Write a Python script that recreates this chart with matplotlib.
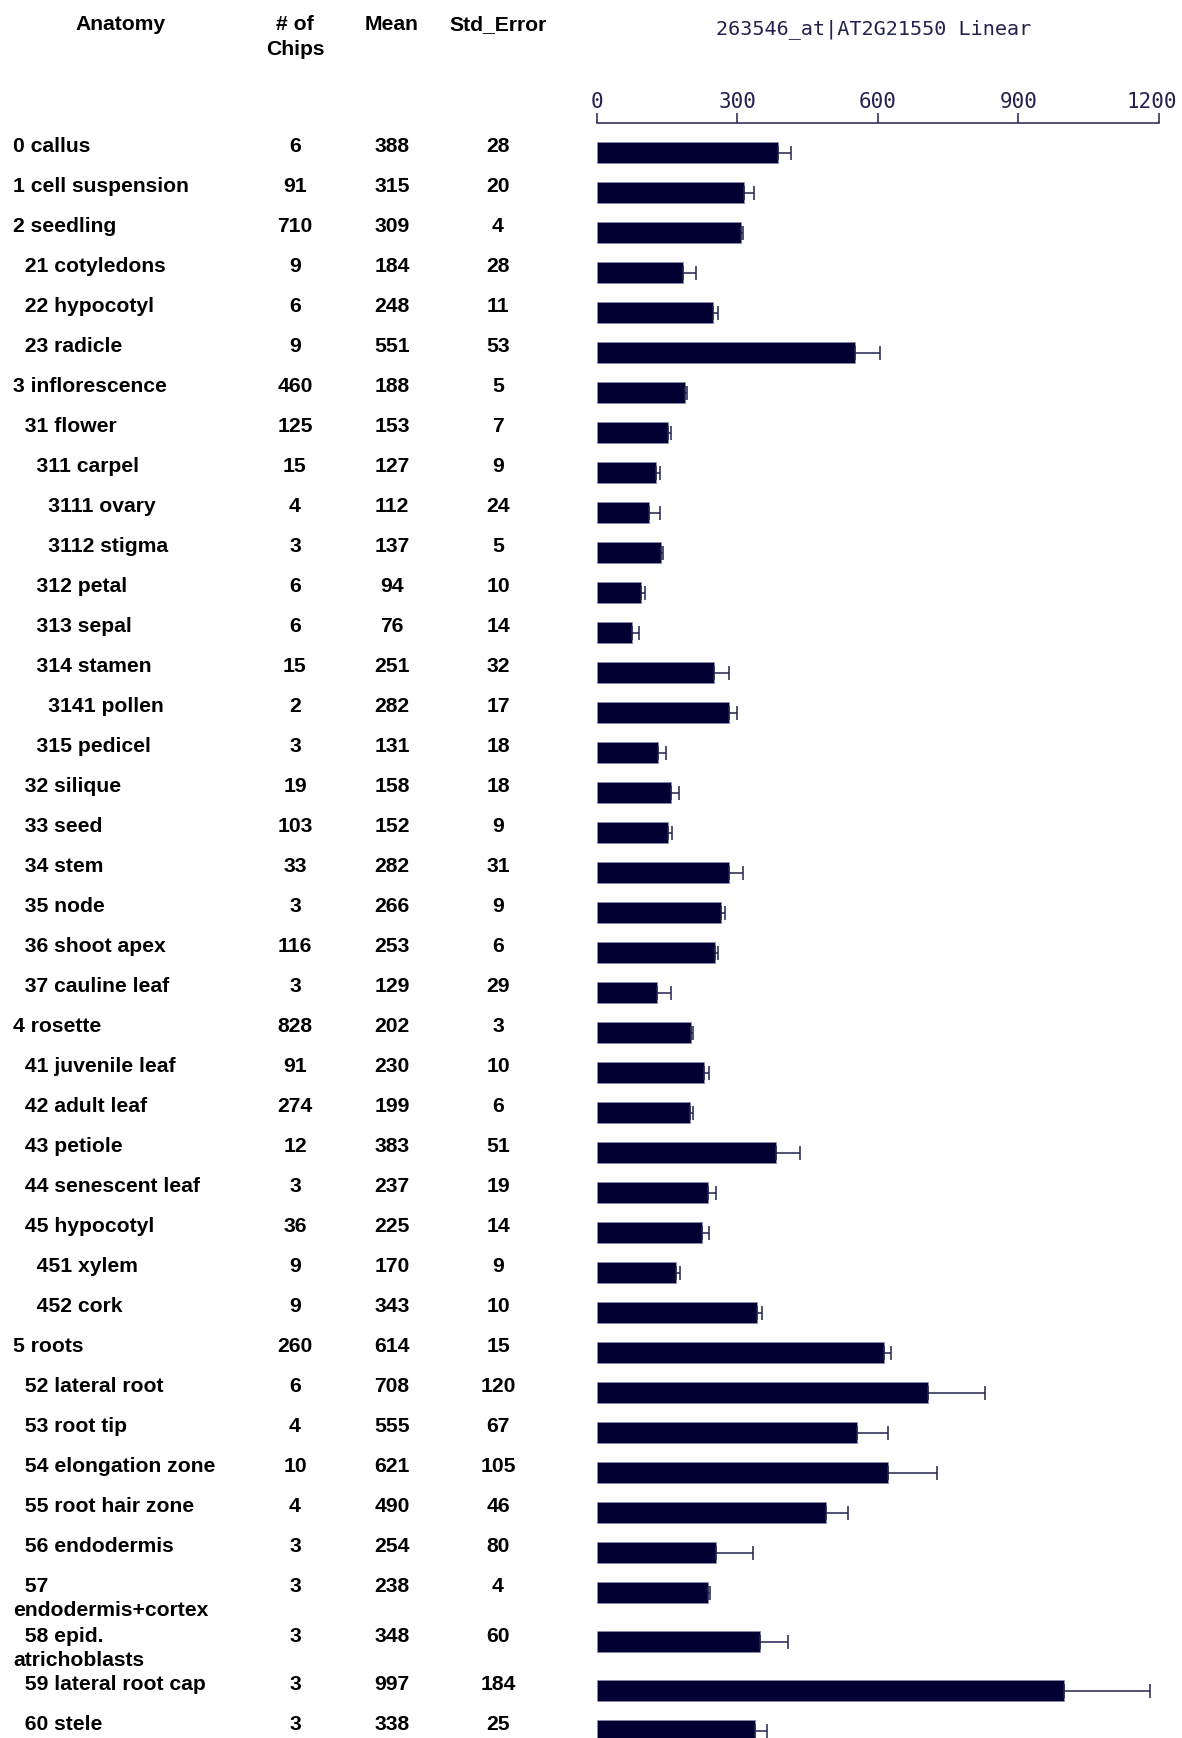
import textwrap

import numpy as np
import matplotlib
matplotlib.use('Agg')
import matplotlib.pyplot as plt
from matplotlib.transforms import ScaledTranslation

# table data
codes = ['0 callus', '1 cell suspension', '2 seedling', '21 cotyledons', '22 hypocotyl',
         '23 radicle', '3 inflorescence', '31 flower', '311 carpel', '3111 ovary',
         '3112 stigma', '312 petal', '313 sepal', '314 stamen', '3141 pollen',
         '315 pedicel', '32 silique', '33 seed', '34 stem', '35 node',
         '36 shoot apex', '37 cauline leaf', '4 rosette', '41 juvenile leaf', '42 adult leaf',
         '43 petiole', '44 senescent leaf', '45 hypocotyl', '451 xylem', '452 cork',
         '5 roots', '52 lateral root', '53 root tip', '54 elongation zone', '55 root hair zone',
         '56 endodermis', '57 endodermis+cortex', '58 epid. atrichoblasts', '59 lateral root cap',
         '60 stele']
depth = [0, 0, 0, 1, 1, 1, 0, 1, 2, 3, 3, 2, 2, 2, 3, 2, 1, 1, 1, 1, 1, 1,
         0, 1, 1, 1, 1, 1, 2, 2, 0, 1, 1, 1, 1, 1, 1, 1, 1, 1]
chips = [6, 91, 710, 9, 6, 9, 460, 125, 15, 4, 3, 6, 6, 15, 2, 3, 19, 103, 33, 3, 116, 3,
         828, 91, 274, 12, 3, 36, 9, 9, 260, 6, 4, 10, 4, 3, 3, 3, 3, 3]
means = [388, 315, 309, 184, 248, 551, 188, 153, 127, 112, 137, 94, 76, 251, 282, 131,
         158, 152, 282, 266, 253, 129, 202, 230, 199, 383, 237, 225, 170, 343,
         614, 708, 555, 621, 490, 254, 238, 348, 997, 338]
std_err = [28, 20, 4, 28, 11, 53, 5, 7, 9, 24, 5, 10, 14, 32, 17, 18, 18, 9, 31, 9, 6, 29,
           3, 10, 6, 51, 19, 14, 9, 10, 15, 120, 67, 105, 46, 80, 4, 60, 184, 25]
headers = ['Anatomy', '# of\nChips', 'Mean', 'Std_Error']
title = '263546_at|AT2G21550 Linear'
ticks = [0, 300, 600, 900, 1200]

W, H = 1182, 1738
BAR_COLOR = '#000033'
LINE_COLOR = '#22224f'
TABLE_FONT = dict(family='Liberation Sans', weight='bold', size=15.2, color='black')

fig = plt.figure(figsize=(W / 100, H / 100), dpi=100)

# text layer in pixel coordinates
tx = fig.add_axes([0, 0, 1, 1])
tx.set_xlim(0, W)
tx.set_ylim(H, 0)
tx.axis('off')

# bar layer, x in data units, y in pixels
x0, x1 = 596.5, 1158.9
ax = fig.add_axes([x0 / W, 0, (x1 - x0) / W, 1])
ax.set_xlim(0, 1200)
ax.set_ylim(H, 0)
ax.patch.set_alpha(0)

# headers
col_x = [121, 295, 392, 498]
for cx, h in zip(col_x, headers):
    for k, line in enumerate(h.split('\n')):
        tx.text(cx, 30 + 25 * k, line, ha='center', va='baseline', **TABLE_FONT)
tx.text(874, 29, title, ha='center', va='center', family='DejaVu Sans Mono',
        size=14.5, color=LINE_COLOR)

# rows: top aligned cells, two-line cells are taller
top = 125
bar_y = []
for i, name in enumerate(codes):
    lines = textwrap.wrap('  ' * depth[i] + name, 21)
    base = top + 20 + 7.5
    for k, line in enumerate(lines):
        tx.text(13, base + 24 * k, line, ha='left', va='baseline', **TABLE_FONT)
    tx.text(col_x[1], base, str(chips[i]), ha='center', va='baseline', **TABLE_FONT)
    tx.text(col_x[2], base, str(means[i]), ha='center', va='baseline', **TABLE_FONT)
    tx.text(col_x[3], base, str(std_err[i]), ha='center', va='baseline', **TABLE_FONT)
    bar_y.append(top + 27.5)
    top += 40 if len(lines) == 1 else 49

ax.barh(bar_y, means, height=21, color=BAR_COLOR, edgecolor='#8a8ab0', linewidth=0.5,
        xerr=[np.zeros(len(std_err)), std_err],
        error_kw=dict(ecolor=LINE_COLOR, elinewidth=1.1, capsize=5, capthick=1.1))

# axis on top
for side in ['left', 'right', 'bottom']:
    ax.spines[side].set_visible(False)
ax.spines['top'].set_position(('data', 122.5))
ax.spines['top'].set_color(LINE_COLOR)
ax.spines['top'].set_linewidth(1.1)
ax.xaxis.set_ticks_position('top')
ax.set_xticks(ticks)
ax.set_xticklabels([str(t) for t in ticks], fontfamily='DejaVu Sans Mono')
ax.tick_params(axis='x', direction='out', length=7.2, width=1.1, color=LINE_COLOR,
               labelcolor=LINE_COLOR, labelsize=15, pad=0.5)
ax.set_yticks([])
# last label sits a little left of its tick
last = ax.get_xticklabels()[-1]
last.set_transform(last.get_transform() + ScaledTranslation(-7 / 100, 0, fig.dpi_scale_trans))

fig.savefig('out.png', dpi=100)
